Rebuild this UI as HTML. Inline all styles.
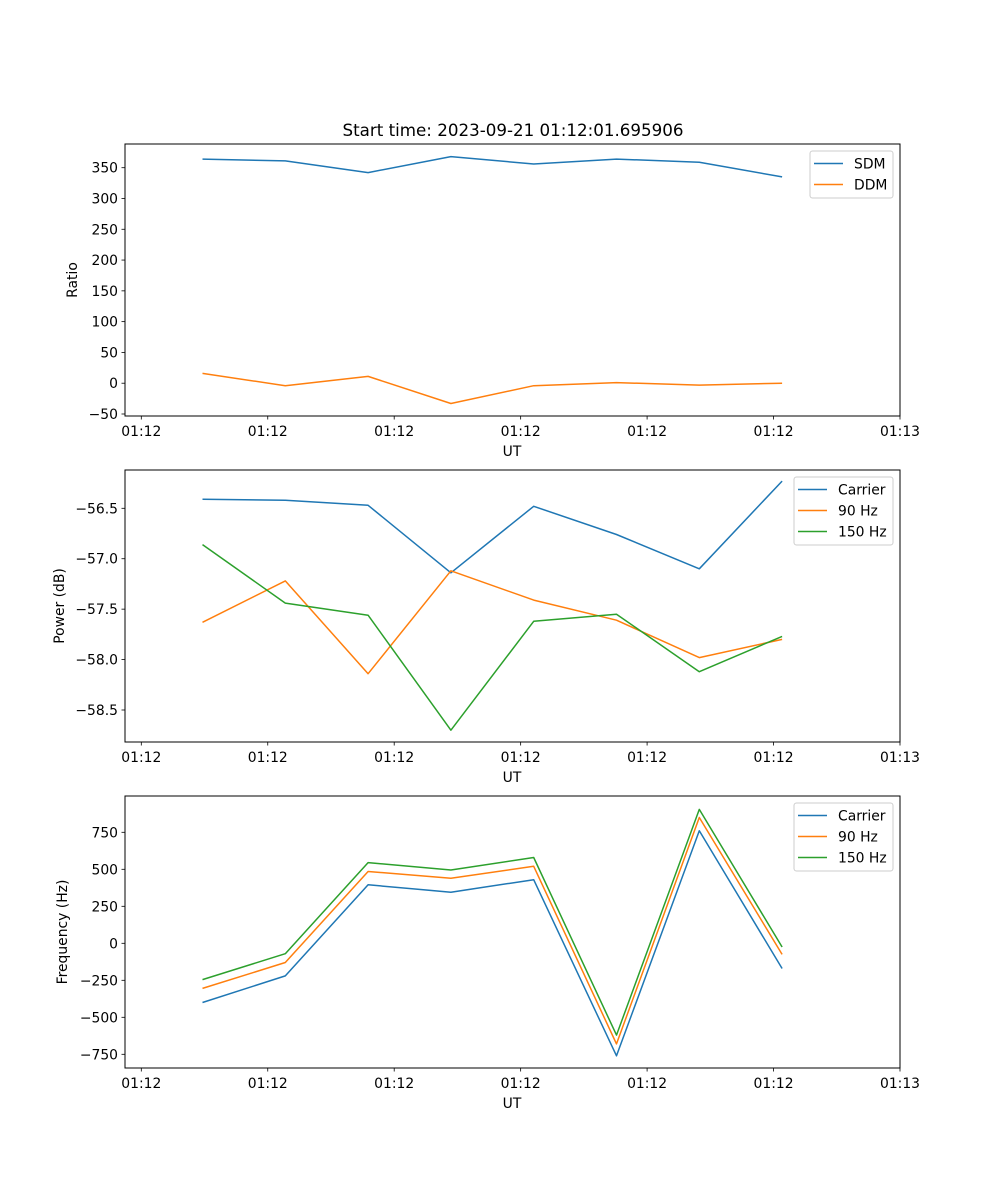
<!DOCTYPE html>
<html><head><meta charset="utf-8"><style>
html,body{margin:0;padding:0;background:#fff;}
svg{display:block;font-family:"DejaVu Sans","Liberation Sans",sans-serif;}
</style></head><body>
<svg id="fig" width="1000" height="1200" xmlns="http://www.w3.org/2000/svg">
<text x="513" y="136" font-size="16.7" text-anchor="middle">Start time: 2023-09-21 01:12:01.695906</text>
</svg>
<script>
const xTickLabels = ["01:12","01:12","01:12","01:12","01:12","01:12","01:13"];
const sdm = [364, 361, 342, 368, 356, 364, 359, 335];
const ddm = [16, -4, 11, -33, -4, 1, -3, 0];
const powCarrier = [-56.41, -56.42, -56.47, -57.14, -56.48, -56.76, -57.10, -56.23];
const pow90 = [-57.63, -57.22, -58.14, -57.12, -57.41, -57.61, -57.98, -57.80];
const pow150 = [-56.86, -57.44, -57.56, -58.70, -57.62, -57.55, -58.12, -57.77];
const freqCarrier = [-400, -220, 395, 345, 430, -760, 760, -170];
const freq90 = [-305, -130, 485, 440, 520, -680, 850, -75];
const freq150 = [-245, -70, 545, 495, 580, -620, 905, -25];
const ratioTicks = [350,300,250,200,150,100,50,0,-50];
const powerTicks = [-56.5,-57.0,-57.5,-58.0,-58.5];
const freqTicks = [750,500,250,0,-250,-500,-750];

const NS="http://www.w3.org/2000/svg";
const svg=document.getElementById('fig');
const C=['#1f77b4','#ff7f0e','#2ca02c'];
function mk(tag,attrs,parent){const e=document.createElementNS(NS,tag);for(const k in attrs)e.setAttribute(k,attrs[k]);(parent||svg).appendChild(e);return e;}
function xs(i){return 202.5+82.8*i;}
const tickX0=141.3, tickStep=126.45;
function fmt(v,dec){const s=Math.abs(v).toFixed(dec);return (v<0?'\u2212':'')+s;}

function panel(name,top,bottom,yRef,yRefPix,pxPerUnit,ticks,dec,ylabel,series,names,legH){
  const L=125,R=900;
  const ys=v=>yRefPix-(v-yRef)*pxPerUnit;
  const g=mk('g',{});
  
  
  series.forEach((s,si)=>{
    const p=mk('polyline',{points:s.map((v,i)=>xs(i).toFixed(1)+','+ys(v).toFixed(1)).join(' '),fill:'none',stroke:C[si],'stroke-width':1.5,'stroke-linejoin':'round'},g);
    
    
  });
  const fr=mk('rect',{x:L,y:top,width:R-L,height:bottom-top,fill:'none',stroke:'#000','stroke-width':1},g);
  
  
  ticks.forEach(t=>{
    const y=ys(t);
    mk('line',{x1:L-3.5,x2:L,y1:y,y2:y,stroke:'#000','stroke-width':0.8},g);
    const tx=mk('text',{x:L-7,y:y+5,'font-size':13.9,'text-anchor':'end'},g);
    tx.textContent=fmt(t,dec);
    
    
  });
  xTickLabels.forEach((lab,i)=>{
    const x=tickX0+tickStep*i;
    mk('line',{x1:x,x2:x,y1:bottom,y2:bottom+3.5,stroke:'#000','stroke-width':0.8},g);
    const tx=mk('text',{x:x,y:bottom+20,'font-size':13.9,'text-anchor':'middle'},g);
    tx.textContent=lab;
    
    
  });
  const xl=mk('text',{x:512,y:bottom+40,'font-size':13.9,'text-anchor':'middle'},g);
  xl.textContent='UT';
  
  
  const cy=(top+bottom)/2;
  const yl=mk('text',{x:0,y:0,'font-size':13.9,'text-anchor':'middle',transform:`translate(${ylabel[1]},${cy}) rotate(-90)`},g);
  yl.textContent=ylabel[0];
  
  
  const lg=mk('g',{},g);
  
  
  const lx=legH[0];
  mk('rect',{x:lx,y:top+7,width:893-lx,height:names.length*21+5,rx:2.5,fill:'#fff','fill-opacity':0.8,stroke:'#ccc','stroke-width':1},lg);
  names.forEach((n,i)=>{
    const y=top+19.5+i*21;
    mk('line',{x1:lx+4,x2:lx+33,y1:y,y2:y,stroke:C[i],'stroke-width':1.5},lg);
    const t=mk('text',{x:lx+44,y:y+5,'font-size':13.9},lg);
    t.textContent=n;
    
    
  });
}
panel('ratio',144,416,350,167.7,246.3/400,ratioTicks,0,['Ratio',77],[sdm,ddm],['SDM','DDM'],[810]);
panel('power',470,742,-56.5,508.3,100.85,powerTicks,1,['Power (dB)',64],[powCarrier,pow90,pow150],['Carrier','90 Hz','150 Hz'],[794]);
panel('frequency',796,1068,0,943.3,0.148,freqTicks,0,['Frequency (Hz)',67],[freqCarrier,freq90,freq150],['Carrier','90 Hz','150 Hz'],[794]);
</script>
</body></html>
